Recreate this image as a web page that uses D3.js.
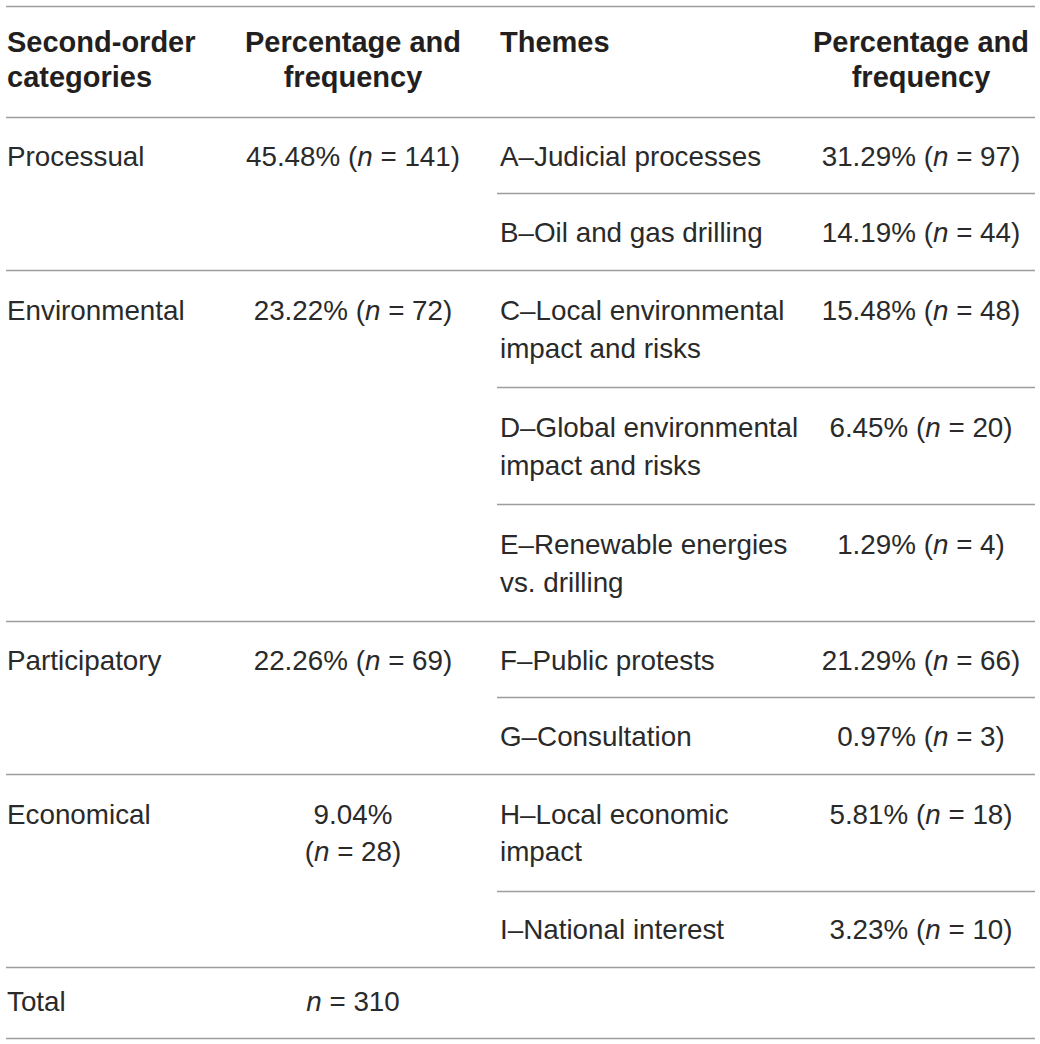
<!DOCTYPE html>
<html>

<head>
  <meta charset="utf-8">
  <title>themes-table</title>
  <style>
    * {
      padding: 0;
      margin: 0;
    }

    body {
      background: #fff;
    }

    svg text {
      font-family: "Liberation Sans", Arial, sans-serif;
      fill: #231f20;
    }

    .head {
      font-weight: bold;
      font-size: 29px;
    }

    .cell {
      font-size: 27.8px;
      fill: #2a2a2a;
    }

    .rule {
      stroke: #9d9d9d;
      stroke-width: 1.6;
    }
  </style>
</head>

<body>
  <svg id="svg"></svg>
  <script src="https://cdnjs.cloudflare.com/ajax/libs/d3/7.8.5/d3.min.js"></script>
  <script>
    // table content
    const headers = ['Second-order\ncategories', 'Percentage and\nfrequency', 'Themes', 'Percentage and\nfrequency'];
    const categories = ['Processual', 'Environmental', 'Participatory', 'Economical'];
    const categoryPct = [45.48, 23.22, 22.26, 9.04];
    const categoryN = [141, 72, 69, 28];
    const wrappedFreq = ['Economical']; // frequency printed on two lines in the source
    const themeCodes = ['A', 'B', 'C', 'D', 'E', 'F', 'G', 'H', 'I'];
    const themeNames = [
      'Judicial processes',
      'Oil and gas drilling',
      'Local environmental\nimpact and risks',
      'Global environmental\nimpact and risks',
      'Renewable energies\nvs. drilling',
      'Public protests',
      'Consultation',
      'Local economic\nimpact',
      'National interest'
    ];
    const themeCategory = [0, 0, 1, 1, 1, 2, 2, 3, 3];
    const themePct = [31.29, 14.19, 15.48, 6.45, 1.29, 21.29, 0.97, 5.81, 3.23];
    const themeN = [97, 44, 48, 20, 4, 66, 3, 18, 10];
    const totalLabel = 'Total';
    const totalN = 310;

    const dim = {
      width: 1040,
      height: 1044,
      ruleLeft: 6,
      ruleRight: 1035,
      subRuleLeft: 497,
      top: 6,
      headHeight: 111,
      headGap: 35,
      lineGap: 37.5,
      singleRow: 76.4,
      extraLine: 40.6,
      totalRow: 71,
      totalBase: 44
    };

    const svg = d3.select('#svg').attr('width', dim.width).attr('height', dim.height);

    const cols = ['cat', 'catFreq', 'theme', 'themeFreq'];
    const xCol = d3.scaleOrdinal().domain(cols).range([7, 353, 500, 921]);
    const anchor = d3.scaleOrdinal().domain(cols).range(['start', 'middle', 'start', 'middle']);

    const fmt = (pct, n) => `${pct.toFixed(2)}% (n = ${n})`;

    // one row per theme, plus the total row
    const rows = themeCodes.map((code, i) => {
      const c = themeCategory[i];
      const first = themeCategory.indexOf(c) === i;
      const last = themeCategory.lastIndexOf(c) === i;
      const cells = {
        theme: `${code}–${themeNames[i]}`.split('\n'),
        themeFreq: [fmt(themePct[i], themeN[i])]
      };
      if (first) {
        cells.cat = [categories[c]];
        const f = fmt(categoryPct[c], categoryN[c]);
        cells.catFreq = wrappedFreq.includes(categories[c]) ? f.replace(' (', '\n(').split('\n') : [f];
      }
      return { cells, last };
    });
    rows.forEach(r => {
      r.lines = d3.max(Object.values(r.cells), d => d.length);
      r.h = dim.singleRow + dim.extraLine * (r.lines - 1);
      r.base = r.h / 2 + 10.5 - (r.lines - 1) * dim.lineGap / 2;
    });
    rows.push({
      cells: { cat: [totalLabel], catFreq: [`n = ${totalN}`] },
      last: true, lines: 1, h: dim.totalRow, base: dim.totalBase
    });

    const tops = d3.cumsum([dim.top + dim.headHeight].concat(rows.map(r => r.h)));
    rows.forEach((r, i) => { r.y = tops[i]; });

    // writes a cell; a lone "n" is set in italics
    function writeCell(g, col, lines, baseline, gap, cls) {
      const t = g.append('text')
        .attr('class', cls)
        .attr('text-anchor', anchor(col));
      lines.forEach((line, k) => {
        const parts = line.split(/(\bn\b)/).filter(p => p.length);
        parts.forEach((p, j) => {
          const ts = t.append('tspan').text(p);
          if (j === 0) ts.attr('x', xCol(col)).attr('y', baseline + k * gap);
          if (p === 'n') ts.style('font-style', 'italic');
        });
      });
    }

    // header
    const head = svg.append('g');
    const headBase = dim.top + dim.headHeight / 2 + 8.3 - dim.headGap / 2;
    headers.forEach((h, i) => {
      writeCell(head, cols[i], h.split('\n'), headBase, dim.headGap, 'head');
    });

    // body
    const body = svg.selectAll('g.row')
      .data(rows)
      .enter()
      .append('g')
      .attr('class', 'row');

    body.each(function (r) {
      const g = d3.select(this);
      cols.forEach(col => {
        if (r.cells[col]) writeCell(g, col, r.cells[col], r.y + r.base, dim.lineGap, 'cell');
      });
    });

    // rules
    const rules = [
      { y: dim.top, x0: dim.ruleLeft },
      { y: dim.top + dim.headHeight, x0: dim.ruleLeft }
    ].concat(rows.map(r => ({ y: r.y + r.h, x0: r.last ? dim.ruleLeft : dim.subRuleLeft })));

    svg.selectAll('line.rule')
      .data(rules)
      .enter()
      .append('line')
      .attr('class', 'rule')
      .attr('x1', d => d.x0)
      .attr('x2', dim.ruleRight)
      .attr('y1', d => Math.round(d.y) + 0.5)
      .attr('y2', d => Math.round(d.y) + 0.5);
  </script>
</body>

</html>
